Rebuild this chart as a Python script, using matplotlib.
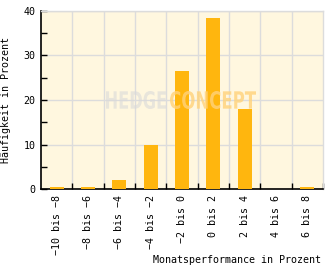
import matplotlib
matplotlib.use("Agg")
import matplotlib.pyplot as plt
from matplotlib.ticker import MultipleLocator, FixedLocator
from matplotlib.textpath import TextPath
from matplotlib.font_manager import FontProperties
from matplotlib.patches import PathPatch
from matplotlib.transforms import Affine2D
import numpy as np

categories = ["\u221210 bis \u22128", "\u22128 bis \u22126", "\u22126 bis \u22124", "\u22124 bis \u22122",
              "\u22122 bis 0", "0 bis 2", "2 bis 4", "4 bis 6", "6 bis 8"]
values = [0.5, 0.5, 2.1, 9.9, 26.5, 38.3, 18.0, 0.0, 0.5]
y_ticks = [0, 10, 20, 30, 40]

W, H = 332, 269
fig = plt.figure(figsize=(W / 100, H / 100), dpi=100)
fig.patch.set_facecolor("white")
ax = fig.add_axes([41 / W, (H - 189.3) / H, 282 / W, 178.5 / H])
ax.set_facecolor("#FFF7DF")

mono = "DejaVu Sans Mono"
fs = 7.2
x = np.arange(len(categories))
ax.bar(x, values, width=0.45, color="#FFB60E", zorder=3)

ax.set_xlim(-0.5, len(categories) - 0.5)
ax.set_ylim(0, 40)

ax.yaxis.set_major_locator(FixedLocator(y_ticks))
ax.yaxis.set_minor_locator(MultipleLocator(5))
bounds = np.arange(0.5, len(categories) - 0.5, 1.0)
for b in bounds:
    ax.axvline(b, color="#DCDCDC", lw=1, zorder=1)
for t in y_ticks[1:]:
    ax.axhline(t, color="#DCDCDC", lw=1, zorder=1)

ax.set_xticks(x)
ax.set_xticklabels(categories, rotation=90, fontfamily=mono, fontsize=fs, va="top")
ax.tick_params(axis="x", which="major", length=0, pad=4)
ax.set_xticks(list(bounds) + [len(categories) - 0.5], minor=True)
ax.tick_params(axis="x", which="minor", direction="in", length=4, width=1, color="black")
ax.tick_params(axis="y", which="major", direction="in", length=4, width=1, labelsize=fs, pad=4)
ax.tick_params(axis="y", which="minor", direction="in", length=4, width=1)
for lab in ax.get_yticklabels():
    lab.set_fontfamily(mono)

for s in ["top", "right"]:
    ax.spines[s].set_color("#DCDCDC")
    ax.spines[s].set_linewidth(1)
for s in ["left", "bottom"]:
    ax.spines[s].set_color("black")
    ax.spines[s].set_linewidth(1.2)

fig.text(321 / W, 1 - 260 / H, "Monatsperformance in Prozent", ha="right", va="center",
         fontfamily=mono, fontsize=fs)
fig.text(6 / W, 1 - 100 / H, "H\u00e4ufigkeit in Prozent", ha="center", va="center",
         rotation=90, fontfamily=mono, fontsize=fs)

# watermark: stretched text fitted into pixel boxes
fp = FontProperties(family="DejaVu Sans", weight="bold")


def stretched(s, x0, x1, y0, y1, color, alpha):
    tp = TextPath((0, 0), s, size=10, prop=fp)
    ext = tp.get_extents()
    sx = (x1 - x0) / ext.width
    sy = (y1 - y0) / ext.height
    tr = Affine2D().translate(-ext.x0, -ext.y0).scale(sx, sy).translate(x0, H - y1)
    patch = PathPatch(tr.transform_path(tp), facecolor=color, edgecolor="none",
                      alpha=alpha, transform=None, zorder=10)
    fig.add_artist(patch)


stretched("HEDGE", 106, 166, 91, 109, "#D9D9D9", 0.6)
stretched("CONCEPT", 170, 256, 91, 109, "#FFD27A", 0.8)

fig.savefig("out.png", dpi=100)
